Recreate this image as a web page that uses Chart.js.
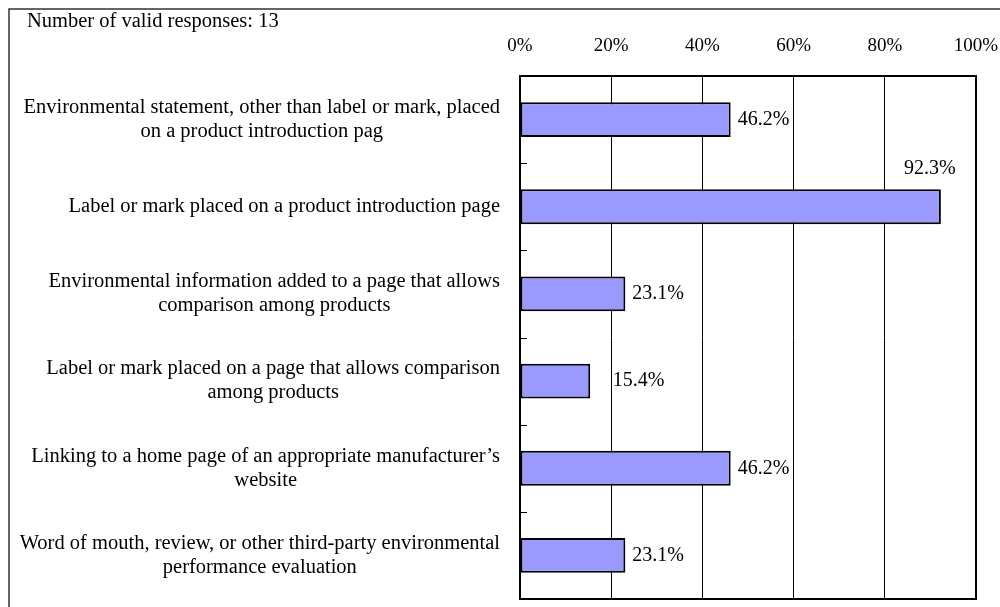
<!DOCTYPE html>
<html>
<head>
<meta charset="utf-8">
<script src="https://cdn.jsdelivr.net/npm/chart.js@4.4.0/dist/chart.umd.min.js"></script>
<style>
  body { margin: 0; background: #fff; }
  canvas { display: block; }
</style>
</head>
<body>
<canvas id="myChart" width="1000" height="607"></canvas>
<script>
// Datos del gráfico
const categorias = [
  ["Environmental statement, other than label or mark, placed", "on a product introduction pag"],
  ["Label or mark placed on a product introduction page"],
  ["Environmental information added to a page that allows", "comparison among products"],
  ["Label or mark placed on a page that allows comparison", "among products"],
  ["Linking to a home page of an appropriate manufacturer\u2019s", "website"],
  ["Word of mouth, review, or other third-party environmental", "performance evaluation"]
];
const valores = [46.2, 92.3, 23.1, 15.4, 46.2, 23.1];
const ticksX = [0, 20, 40, 60, 80, 100];
const nota = "Number of valid responses: 13";

const fuente = "'Liberation Serif', 'Times New Roman', serif";

// Marco exterior y texto de respuestas
const marcoPlugin = {
  id: "marco",
  beforeDraw(chart) {
    const ctx = chart.ctx;
    ctx.save();
    ctx.fillStyle = "#fff";
    ctx.fillRect(0, 0, chart.width, chart.height);
    ctx.strokeStyle = "#333";
    ctx.lineWidth = 1.5;
    ctx.beginPath();
    ctx.moveTo(9, chart.height);
    ctx.lineTo(9, 9);
    ctx.lineTo(chart.width, 9);
    ctx.stroke();
    ctx.fillStyle = "#000";
    ctx.font = "20.5px " + fuente;
    ctx.textBaseline = "middle";
    ctx.textAlign = "left";
    ctx.fillText(nota, 27, 22);
    ctx.restore();
  },
  afterDraw(chart) {
    const ctx = chart.ctx;
    const a = chart.chartArea;
    const y = chart.scales.y;
    ctx.save();
    // marcas del eje y en los limites de categoria
    ctx.strokeStyle = "#000";
    ctx.lineWidth = 1;
    ctx.beginPath();
    for (let i = 1; i < categorias.length; i++) {
      const py = Math.round((y.getPixelForValue(i - 1) + y.getPixelForValue(i)) / 2) + 0.5;
      ctx.moveTo(a.left, py);
      ctx.lineTo(a.left + 7, py);
    }
    ctx.stroke();
    // caja del area
    ctx.lineWidth = 2;
    ctx.strokeRect(a.left, a.top, a.right - a.left, a.bottom - a.top);

    // etiquetas de categoria: bloque alineado a la derecha, lineas centradas
    ctx.font = "20.5px " + fuente;
    ctx.fillStyle = "#000";
    ctx.textAlign = "center";
    ctx.textBaseline = "middle";
    const alto = 24;
    const derecha = a.left - 20;
    categorias.forEach(function(lineas, i) {
      const cy = y.getPixelForValue(i);
      const ancho = Math.max.apply(null, lineas.map(l => ctx.measureText(l).width));
      const cx = derecha - ancho / 2;
      lineas.forEach(function(l, j) {
        ctx.fillText(l, cx, cy + (j - (lineas.length - 1) / 2) * alto);
      });
    });
    ctx.restore();
  }
};

// Etiquetas de valores
const etiquetasPlugin = {
  id: "etiquetas",
  afterDatasetsDraw(chart) {
    const ctx = chart.ctx;
    const a = chart.chartArea;
    const x = chart.scales.x;
    const meta = chart.getDatasetMeta(0);
    ctx.save();
    ctx.font = "20px " + fuente;
    ctx.fillStyle = "#000";
    meta.data.forEach(function(bar, i) {
      const txt = valores[i].toFixed(1) + "%";
      const w = ctx.measureText(txt).width;
      ctx.textBaseline = "middle";
      if (bar.x + 7 + w > a.right - 4) {
        ctx.textAlign = "center";
        ctx.fillText(txt, bar.x - 11, bar.y - bar.height / 2 - 21);
      } else {
        // evitar que la etiqueta cruce una linea de cuadricula
        let inicio = bar.x + 7;
        ticksX.forEach(function(t) {
          const gx = x.getPixelForValue(t);
          if (gx > inicio && gx < inicio + w) inicio = gx + 1.5;
        });
        ctx.textAlign = "left";
        ctx.fillText(txt, inicio, bar.y);
      }
    });
    ctx.restore();
  }
};

const data = {
  labels: categorias,
  datasets: [
    {
      data: valores,
      backgroundColor: "#9999FF",
      borderColor: "#000",
      borderWidth: 2,
      borderSkipped: false,
      categoryPercentage: 0.4,
      barPercentage: 1.0
    }
  ]
};

const config = {
  type: "bar",
  data: data,
  options: {
    indexAxis: "y",
    responsive: false,
    animation: false,
    devicePixelRatio: 1,
    layout: { padding: { left: 0, top: 0, right: 24, bottom: 8 } },
    plugins: {
      legend: { display: false },
      tooltip: { enabled: false }
    },
    scales: {
      x: {
        position: "top",
        min: 0,
        max: 100,
        afterBuildTicks(scale) {
          scale.ticks = ticksX.map(v => ({ value: v }));
        },
        afterFit(scale) {
          scale.height = 76;
          scale.paddingLeft = 0;
          scale.paddingRight = 0;
        },
        ticks: {
          padding: 19,
          color: "#000",
          font: { family: fuente, size: 19 },
          callback: v => v + "%"
        },
        grid: {
          color: "#000",
          lineWidth: 1,
          drawTicks: false
        },
        border: { display: false }
      },
      y: {
        afterFit(scale) {
          scale.width = 520;
          scale.paddingTop = 0;
          scale.paddingBottom = 0;
        },
        ticks: { display: false },
        grid: { display: false, drawTicks: false },
        border: { display: false }
      }
    }
  },
  plugins: [marcoPlugin, etiquetasPlugin]
};

// Crear el gráfico
var myChart = new Chart(document.getElementById("myChart"), config);
</script>
</body>
</html>
